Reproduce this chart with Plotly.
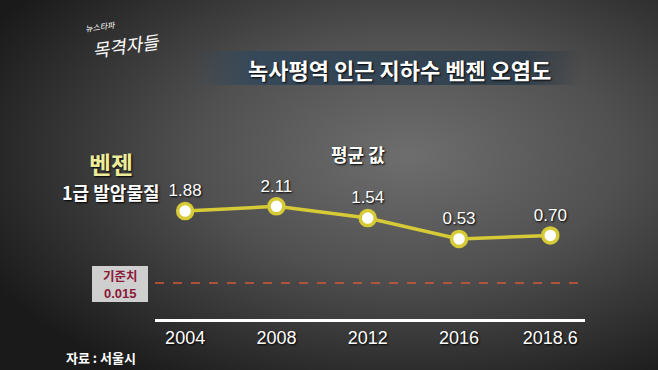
import base64
import plotly.graph_objects as go

# ---- data ----
periods = ["2004", "2008", "2012", "2016", "2018.6"]
benzene = [1.88, 2.11, 1.54, 0.53, 0.70]
value_labels = ["1.88", "2.11", "1.54", "0.53", "0.70"]
threshold = 0.015
threshold_name = "기준치"
threshold_value_label = "0.015"
title_text = "녹사평역 인근 지하수 벤젠 오염도"
subtitle_text = "평균 값"
source_text = "자료 : 서울시"

W, H = 658, 370
L, R, T, B = 155, 73, 130, 50
PW, PH = W - L - R, H - T - B


def px(x, y):
    return (x - L) / PW, 1 - (y - T) / PH


svg = f'''<svg xmlns="http://www.w3.org/2000/svg" width="{W}" height="{H}" viewBox="0 0 {W} {H}" preserveAspectRatio="none">
<defs>
<radialGradient id="bg" cx="0.62" cy="0.42" r="0.72" gradientUnits="objectBoundingBox">
<stop offset="0" stop-color="#6e6e6e"/>
<stop offset="0.45" stop-color="#505050"/>
<stop offset="1" stop-color="#1a1a1a"/>
</radialGradient>
<linearGradient id="ban" x1="0" y1="0" x2="1" y2="0">
<stop offset="0" stop-color="#34485a" stop-opacity="0"/>
<stop offset="0.16" stop-color="#34485a" stop-opacity="0.95"/>
<stop offset="0.85" stop-color="#2e3e4c" stop-opacity="0.9"/>
<stop offset="1" stop-color="#2a3440" stop-opacity="0"/>
</linearGradient>
</defs>
<rect x="0" y="0" width="{W}" height="{H}" fill="url(#bg)"/>
<rect x="192" y="51" width="390" height="34" fill="url(#ban)"/>
<rect x="92" y="266" width="56" height="36" fill="#cfcfcf"/>
</svg>'''
svg_uri = "data:image/svg+xml;base64," + base64.b64encode(svg.encode()).decode()

NUM = "Liberation Sans, Arial, Noto Sans CJK KR"
KR = "Noto Sans CJK KR, Liberation Sans"
SH = "1px 1px 2px #000"

fig = go.Figure()
fig.add_trace(go.Scatter(
    x=periods, y=benzene, mode="lines+markers+text",
    line=dict(color="#d6cb36", width=3.5),
    marker=dict(size=15, color="white", line=dict(color="#d6cb36", width=3.5)),
    text=value_labels, textposition="top center",
    textfont=dict(family=NUM, size=17, color="white", shadow=SH),
    cliponaxis=False, hoverinfo="skip", showlegend=False,
))

# threshold drawn on a separate (broken) lower axis, as in the TV graphic
fig.add_shape(type="line", xref="x domain", yref="y2", x0=0, x1=1,
              y0=threshold, y1=threshold,
              line=dict(color="#d2583a", width=1.5, dash="dash"))


def note(xp, yp, text, font, **kw):
    x, y = px(xp, yp)
    d = dict(x=x, y=y, xref="paper", yref="paper", text=text, showarrow=False,
             xanchor="center", yanchor="middle", font=font, borderpad=0)
    d.update(kw)
    return d


ann = [
    note(120, 275, threshold_name, dict(family=KR, size=12.5, color="#8a1838", weight="bold")),
    note(120, 293, threshold_value_label, dict(family=NUM, size=13, color="#8a1838", weight="bold")),
    note(399, 69, title_text, dict(family=KR, size=22, color="white", weight="bold", shadow=SH)),
    note(358, 154, subtitle_text, dict(family=KR, size=18, color="white", weight="bold", shadow=SH)),
    note(111, 163, "벤젠", dict(family=KR, size=24, color="#ecec9a", weight="bold", shadow=SH)),
    note(111, 192, "1급 발암물질", dict(family=KR, size=18, color="white", weight="bold", shadow=SH)),
    note(101, 357, source_text, dict(family=KR, size=13, color="white", weight="bold")),
    note(100, 27, "뉴스타파", dict(family=KR, size=8, color="white", style="italic"), textangle=-8),
    note(126, 45, "목격자들", dict(family=KR, size=18, color="white", style="italic"), textangle=-8),
]

ix, iy = px(0, 0)
fig.update_layout(
    width=W, height=H,
    margin=dict(l=L, r=R, t=T, b=B, pad=0),
    paper_bgcolor="#3a3a3a", plot_bgcolor="rgba(0,0,0,0)",
    images=[dict(source=svg_uri, xref="paper", yref="paper", x=ix, y=iy,
                 sizex=W / PW, sizey=H / PH, sizing="stretch", layer="below",
                 xanchor="left", yanchor="top")],
    annotations=ann,
    xaxis=dict(type="category", range=[-0.33, 4.38], showgrid=False, zeroline=False,
               anchor="free", position=0,
               showline=True, linecolor="white", linewidth=3, ticks="",
               tickfont=dict(family=NUM, size=18, color="white", shadow=SH),
               fixedrange=True),
    yaxis=dict(domain=[0.3158, 1], range=[-0.496, 5.82], visible=False, fixedrange=True),
    yaxis2=dict(domain=[0, 0.3], range=[0, 0.0231], visible=False, fixedrange=True),
    showlegend=False,
)

fig.write_html("out.html")
